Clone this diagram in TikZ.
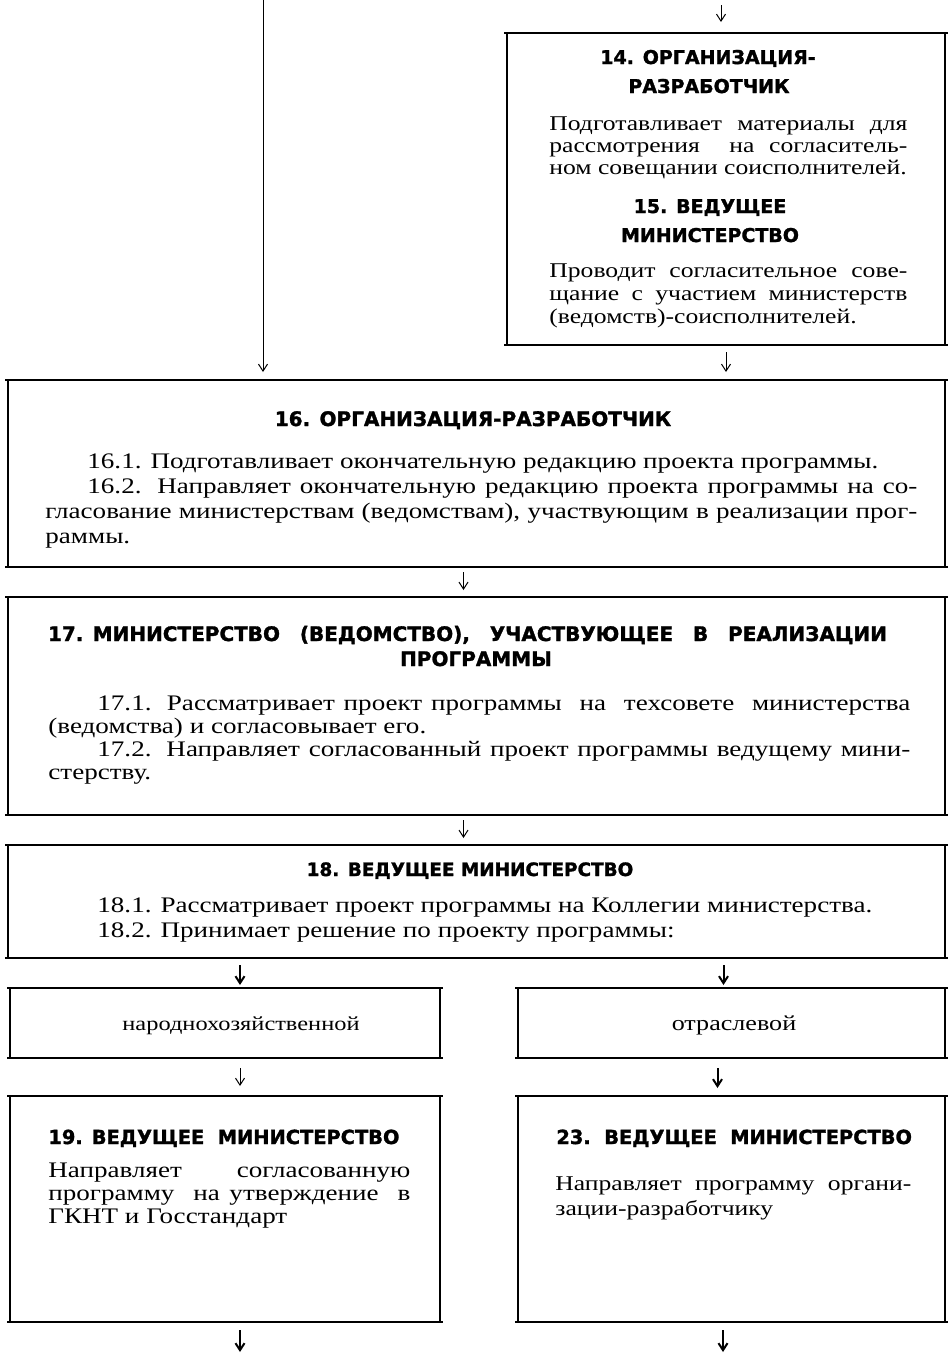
\documentclass[tikz,border=0pt]{standalone}
\usepackage{fontspec}
\setmainfont{Liberation Serif}[FakeStretch=1.22]
\newfontfamily\headfont{DejaVu Sans}[BoldFeatures={FakeBold=1.5}]
\usetikzlibrary{arrows.meta,fit,calc}
\newcommand\drawbox[1]{%
  \draw[hline] ([xshift=-1.5pt]#1.north west) -- ([xshift=1.5pt]#1.north east);
  \draw[hline] ([xshift=-1.5pt]#1.south west) -- ([xshift=1.5pt]#1.south east);
  \draw[vline] (#1.north west) -- (#1.south west);
  \draw[vline] (#1.north east) -- (#1.south east);}
\begin{document}
\begin{tikzpicture}[x=0.5pt,y=-0.5pt,
  frame/.style={inner sep=0pt,outer sep=0pt},
  hline/.style={line width=1.3pt},
  vline/.style={line width=0.7pt},
  arr/.style={-{Straight Barb[length=3.5pt,width=4.5pt]},line width=0.5pt},
  barr/.style={-{Straight Barb[length=3.5pt,width=4.5pt]},line width=1pt},
  body/.style={font=\fontsize{10.5}{#1}\selectfont,align=justify,inner sep=0pt,anchor=base west},
  bodyl/.style={font=\fontsize{11.1}{#1}\selectfont,align=justify,inner sep=0pt,anchor=base west},
  head/.style={font=\headfont\bfseries\fontsize{10}{14.5}\selectfont,inner sep=0pt,anchor=base},
  heads/.style={head,font=\headfont\bfseries\fontsize{9.5}{14.5}\selectfont},
  headm/.style={head,font=\headfont\bfseries\fontsize{9.7}{14.5}\selectfont,anchor=base west}]
\useasboundingbox (0,0) rectangle (950,1355);

% boxes
\node[frame,fit={(507,33) (945,345)}] (b14) {};
\node[frame,fit={(8,380) (945,567)}] (b16) {};
\node[frame,fit={(8,597) (945,815)}] (b17) {};
\node[frame,fit={(8,845) (945,958)}] (b18) {};
\node[frame,fit={(10,988) (440,1058)}] (bn) {};
\node[frame,fit={(518,988) (945,1058)}] (bo) {};
\node[frame,fit={(10,1096) (440,1322)}] (b19) {};
\node[frame,fit={(518,1096) (945,1322)}] (b23) {};
\foreach \b in {b14,b16,b17,b18,bn,bo,b19,b23} {\drawbox{\b}}

% box 14/15
\node[heads] (h14a) at (708,64) {14. ОРГАНИЗАЦИЯ-};
\node[heads] (h14b) at (709,93) {РАЗРАБОТЧИК};
\node[body=11pt,text width=179pt] (t14) at (549,130)
 {Подготавливает материалы для\linebreak
  рассмотрения\ \ на согласитель-\linebreak
  ном совещании соисполнителей.};
\node[heads] (h15a) at (710,213) {15. ВЕДУЩЕЕ};
\node[heads] (h15b) at (710,242) {МИНИСТЕРСТВО};
\node[body=11.5pt,text width=179pt] (t15) at (549,277)
 {Проводит согласительное сове-\linebreak
  щание с участием министерств\linebreak
  (ведомств)-соисполнителей.};

% box 16
\node[head] (h16) at (473,426) {16. ОРГАНИЗАЦИЯ-РАЗРАБОТЧИК};
\node[bodyl=12.5pt,text width=436pt] (t16) at (45,468)
 {\hspace*{21pt}16.1. Подготавливает окончательную редакцию проекта программы.\\
  \hspace*{21pt}16.2. Направляет окончательную редакцию проекта программы на со-\linebreak
  гласование министерствам (ведомствам), участвующим в реализации прог-\linebreak
  раммы.};

% box 17
\node[head] (h17a) at (467.5,641) {\makebox[419.5pt][s]{\mbox{17. МИНИСТЕРСТВО} (ВЕДОМСТВО), УЧАСТВУЮЩЕЕ В РЕАЛИЗАЦИИ}};
\node[head] (h17b) at (476,666) {ПРОГРАММЫ};
\node[bodyl=11.5pt,text width=431pt] (t17) at (48,710)
 {\hspace*{24.5pt}17.1. Рассматривает проект программы\ \ на\ \ техсовете\ \ министерства\linebreak
  (ведомства) и согласовывает его.\\
  \hspace*{24.5pt}17.2. Направляет согласованный проект программы ведущему мини-\linebreak
  стерству.};

% box 18
\node[head,font=\headfont\bfseries\fontsize{9.2}{14}\selectfont] (h18) at (470,876) {18. ВЕДУЩЕЕ МИНИСТЕРСТВО};
\node[bodyl=12.5pt,text width=431pt] (t18) at (48,912)
 {\hspace*{24.5pt}18.1. Рассматривает проект программы на Коллегии министерства.\\
  \hspace*{24.5pt}18.2. Принимает решение по проекту программы:};

% choice boxes
\node[font=\fontsize{10}{12}\selectfont,inner sep=0pt,anchor=base] (tn) at (241,1030) {народнохозяйственной};
\node[font=\fontsize{10.7}{12}\selectfont,inner sep=0pt,anchor=base] (to) at (734,1030) {отраслевой};

% box 19
\node[headm] (h19) at (48,1144) {19. ВЕДУЩЕЕ\ \ МИНИСТЕРСТВО};
\node[bodyl=11.5pt,text width=181pt] (t19) at (48,1177)
 {Направляет\hfill согласованную\linebreak
  программу\ \ на утверждение\ \ в\linebreak
  ГКНТ\ и\ Госстандарт};

% box 23
\node[headm] (h23) at (556,1144) {23.\ \ ВЕДУЩЕЕ\ \ МИНИСТЕРСТВО};
\node[body=12.5pt,text width=178pt] (t23) at (555,1190)
 {Направляет программу органи-\linebreak
  зации-разработчику};

% connectors
\coordinate (topL) at (263,0);
\coordinate (topR) at (721,5);
\draw[arr,shorten >=4pt] (topL) -- (topL |- b16.north);
\draw[arr,shorten >=5.5pt] (topR) -- (topR |- b14.north);
\draw[arr,shorten <=3.5pt,shorten >=4pt] (b14.south) -- (b14.south |- b16.north);
\draw[arr,shorten <=2.5pt,shorten >=3.5pt] ([xshift=-6.5pt]b16.south) -- ([xshift=-6.5pt]b16.south |- b17.north);
\draw[arr,shorten <=2.5pt,shorten >=3.5pt] ([xshift=-6.5pt]b17.south) -- ([xshift=-6.5pt]b17.south |- b18.north);
\draw[barr,shorten <=3.5pt,shorten >=1.5pt] ([xshift=7.5pt]bn.north |- b18.south) -- ([xshift=7.5pt]bn.north);
\draw[barr,shorten <=3.5pt,shorten >=1.5pt] ([xshift=-4pt]bo.north |- b18.south) -- ([xshift=-4pt]bo.north);
\draw[arr,shorten <=5pt,shorten >=5pt] ([xshift=7.5pt]bn.south) -- ([xshift=7.5pt]b19.north);
\draw[barr,shorten <=5pt,shorten >=4pt] ([xshift=-7pt]bo.south) -- ([xshift=-7pt]b23.north);
\coordinate (endL) at (240,1352);
\coordinate (endR) at (723,1352);
\draw[barr,shorten <=4pt] (b19.south -| endL) -- (endL);
\draw[barr,shorten <=4pt] (b23.south -| endR) -- (endR);
\end{tikzpicture}
\end{document}
